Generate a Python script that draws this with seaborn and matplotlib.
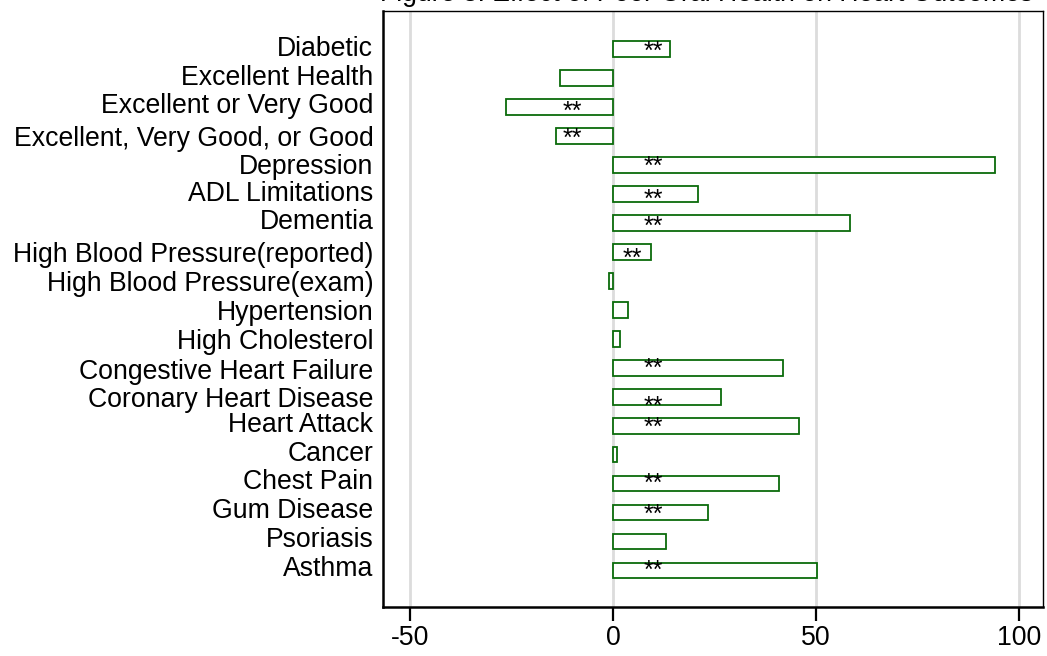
import numpy as np
import pandas as pd
import matplotlib
matplotlib.use("Agg")
import matplotlib.pyplot as plt
import seaborn as sns

# outcomes, top to bottom
outcomes = [
    "Diabetic", "Excellent Health", "Excellent or Very Good",
    "Excellent, Very Good, or Good", "Depression", "ADL Limitations",
    "Dementia", "High Blood Pressure(reported)", "High Blood Pressure(exam)",
    "Hypertension", "High Cholesterol", "Congestive Heart Failure",
    "Coronary Heart Disease", "Heart Attack", "Cancer", "Chest Pain",
    "Gum Disease", "Psoriasis", "Asthma",
]
effects = [14.0, -13.0, -26.4, -14.0, 94.0, 20.8, 58.3, 9.3, -1.0,
           3.6, 1.7, 41.9, 26.6, 45.9, 1.0, 40.8, 23.4, 12.9, 50.1]
significant = [True, False, True, True, True, True, True, True, False,
               False, False, True, True, True, False, True, True, False, True]
x_ticks = [-50, 0, 50, 100]

# small vertical nudges of the labels / stars (pixels), as in the original layout
label_dy = [-2.7, -2.2, -3.2, 0.5, -1.0, -3.0, -3.9, 0, 0.3, 0.6, 0.5,
            1.4, 0.7, -4, -3.7, -4.3, -4.3, -4, -4.4]
star_dy = [3.3, 0, 5.5, 3.5, 2, 6.5, 4.1, 7, 0, 0, 0, 1.7, 10, 2.7,
           0, 0, 2.7, 0, 0]

df = pd.DataFrame({"outcome": outcomes, "effect": effects})

sns.set_style("ticks")
plt.rcParams["font.family"] = ["Liberation Sans", "DejaVu Sans"]
plt.rcParams["text.color"] = "black"
plt.rcParams["xtick.color"] = "black"
plt.rcParams["ytick.color"] = "black"
plt.rcParams["axes.edgecolor"] = "black"

fig = plt.figure(figsize=(10.47, 6.56), dpi=100)
ax = fig.add_axes([383 / 1047, 1 - 607 / 656, 660 / 1047, 596 / 656])

green = "#0b6b0b"
sns.barplot(data=df, y="outcome", x="effect", orient="h", fill=False,
            width=0.55, color=green, linewidth=1.3,
            errorbar=None, ax=ax)
for p in ax.patches:
    p.set_edgecolor(green)
    p.set_facecolor("white")
    p.set_zorder(3)

slot = 28.9  # pixels per category
pos = np.arange(len(outcomes))

ax.set_xlim(-56.7, 105.9)
ax.set_ylim(len(outcomes) - 1 + 1.26, -1.3)

ax.set_yticks(pos + np.array(label_dy) / slot, outcomes)
ax.tick_params(axis="y", length=0, pad=7, labelsize=19.2, left=False)
ax.set_xticks(x_ticks, [str(t) for t in x_ticks])
ax.tick_params(axis="x", length=10, width=1.6, pad=3, labelsize=19.2,
               direction="out", bottom=True, colors="black")
ax.set_xlabel("")
ax.set_ylabel("")

ax.xaxis.grid(True, color="#dcdcdc", linewidth=2, zorder=0)
ax.yaxis.grid(False)
ax.set_axisbelow(True)

for side in ["top", "right"]:
    ax.spines[side].set_visible(True)
    ax.spines[side].set_linewidth(1.0)
    ax.spines[side].set_color("black")
for side in ["left", "bottom"]:
    ax.spines[side].set_visible(True)
    ax.spines[side].set_linewidth(1.8)
    ax.spines[side].set_color("black")

for i, (v, sig) in enumerate(zip(effects, significant)):
    if not sig:
        continue
    sx = v / 2 if abs(v) < 10 else np.sign(v) * 10
    ax.text(sx, i + star_dy[i] / slot, "**", ha="center", va="center",
            fontsize=18, color="black", zorder=4)

fig.text(0.675, 1 - 1 / 656, "Figure 3: Effect of Poor Oral Health on Heart Outcomes",
         ha="center", va="baseline", fontsize=19.2)

fig.savefig("out.png", dpi=100)
